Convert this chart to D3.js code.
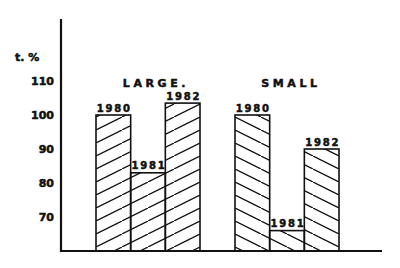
<!DOCTYPE html>
<html><head><meta charset="utf-8">
<script src="https://cdn.jsdelivr.net/npm/d3@7"></script>
<style>html,body{margin:0;padding:0;background:#fff;}svg{display:block;}</style>
</head><body>
<script>
const groups = ["LARGE", "SMALL"];
const groupLabels = ["LARGE.", "SMALL"];
const years = ["1980", "1981", "1982"];
const largeValues = [100, 83, 103.5];
const smallValues = [100, 66, 90];
const tickValues = [70, 80, 90, 100, 110];
const yUnitLabel = "t. %";

const W = 400, H = 268;
const svg = d3.select("body").append("svg").attr("width", W).attr("height", H);
const ink = "#111";

const data = [
  {group: groups[0], label: groupLabels[0], values: largeValues, pattern: "hatchUp", dx: 8},
  {group: groups[1], label: groupLabels[1], values: smallValues, pattern: "hatchDown", dx: 4}
];

const y = d3.scaleLinear().domain([60, 110]).range([251, 81]);
const x0 = d3.scaleBand().domain(groups).range([96, 339]).paddingInner(35/139).paddingOuter(0);
const x1 = d3.scaleBand().domain(years).range([0, x0.bandwidth()]).padding(0);

const defs = svg.append("defs");
function hatch(id, up) {
  const p = defs.append("pattern").attr("id", id).attr("patternUnits", "userSpaceOnUse")
    .attr("width", 26).attr("height", 13);
  if (up) {
    p.append("line").attr("x1", -2).attr("y1", 14).attr("x2", 28).attr("y2", -1);
  } else {
    p.append("line").attr("x1", -2).attr("y1", -1).attr("x2", 28).attr("y2", 14);
  }
  p.selectAll("line").attr("stroke", ink).attr("stroke-width", 1.3);
}
hatch("hatchUp", true);
hatch("hatchDown", false);

const font = "'DejaVu Sans', sans-serif";
function heavy(sel) {
  return sel.attr("font-family", font).attr("font-weight", "bold")
    .attr("fill", ink).attr("stroke", ink).attr("stroke-width", 0.5);
}

// bars
data.forEach(g => {
  const gx = x0(g.group);
  const sel = svg.append("g").attr("transform", `translate(${gx},0)`);
  sel.selectAll("rect").data(g.values).join("rect")
    .attr("x", (d, i) => x1(years[i]))
    .attr("y", d => y(d))
    .attr("width", x1.bandwidth())
    .attr("height", d => y(60) - y(d))
    .attr("fill", `url(#${g.pattern})`)
    .attr("stroke", ink).attr("stroke-width", 1.6);
  heavy(sel.selectAll("text").data(g.values).join("text")
    .attr("x", (d, i) => x1(years[i]) + x1.bandwidth() / 2 + 1)
    .attr("y", d => y(d) - 3.5)
    .attr("text-anchor", "middle")
    .attr("font-size", 10)
    .attr("letter-spacing", 1.8)
    .text((d, i) => years[i]));
  heavy(svg.append("text")
    .attr("x", gx + x0.bandwidth() / 2 + g.dx)
    .attr("y", 87)
    .attr("text-anchor", "middle")
    .attr("font-size", 11)
    .attr("letter-spacing", 3.6)
    .text(g.label));
});

// y axis
const yAxis = d3.axisLeft(y).tickValues(tickValues).tickSize(0).tickPadding(7);
const ag = svg.append("g").attr("transform", "translate(61,0)").call(yAxis);
ag.select(".domain").remove();
heavy(ag.selectAll("text").attr("font-size", 11));

svg.append("line").attr("x1", 61).attr("x2", 61).attr("y1", 19).attr("y2", 252)
  .attr("stroke", ink).attr("stroke-width", 2.2);
svg.append("line").attr("x1", 60).attr("x2", 382).attr("y1", y(60)).attr("y2", y(60))
  .attr("stroke", ink).attr("stroke-width", 2.2);

heavy(svg.append("text").attr("x", 15).attr("y", 61)
  .attr("font-size", 11).text(yUnitLabel));
</script>
</body></html>
